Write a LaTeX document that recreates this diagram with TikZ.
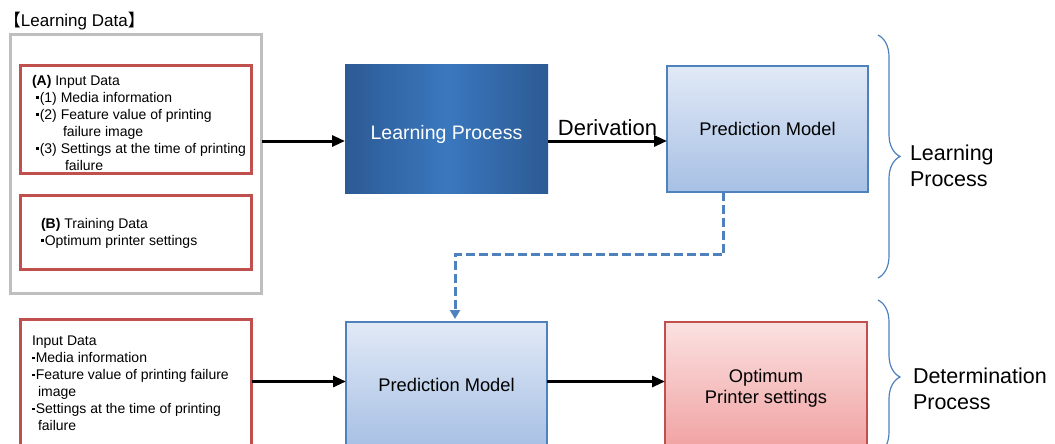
\documentclass[tikz,border=0pt]{standalone}
\usepackage{fontspec}
\setmainfont{Liberation Sans}
\newfontfamily\cjk{Noto Sans CJK JP}
\usepackage{tikz}
\usetikzlibrary{positioning,arrows.meta,decorations.pathreplacing}
\definecolor{boxred}{HTML}{C0504D}
\definecolor{boxblue}{HTML}{4F81BD}
\definecolor{framegray}{HTML}{BFBFBF}
\definecolor{deepblue}{HTML}{2C5A94}
\definecolor{midblue}{HTML}{3A78BE}
\definecolor{paleblue}{HTML}{E1E9F6}
\definecolor{softblue}{HTML}{A7C0E4}
\definecolor{palered}{HTML}{FBE1E1}
\definecolor{softred}{HTML}{F09F9F}
\def\ModelW{201pt}
\def\ModelH{125pt}
\def\dotmark{\raisebox{3.2pt}{\rule{2.6pt}{2.6pt}}\hspace{1.2pt}}

\begin{document}
\begin{tikzpicture}[x=1pt,y=-1pt,
    every node/.style={outer sep=0pt},
    frame/.style={draw=framegray,line width=3pt,minimum width=251pt,minimum height=259pt},
    databox/.style={draw=boxred,line width=3pt,minimum width=231pt},
    listtext/.style={align=left,inner sep=0pt,font=\fontsize{14}{17}\selectfont},
    learnbox/.style={left color=deepblue,right color=deepblue,middle color=midblue,minimum width=203pt,minimum height=128pt},
    modelbox/.style={draw=boxblue,line width=2pt,top color=paleblue,bottom color=softblue,minimum width=\ModelW,minimum height=\ModelH,align=center,font=\fontsize{18.3}{21}\selectfont},
    resultbox/.style={draw=boxred,line width=2pt,top color=palered,bottom color=softred,minimum width=202pt,minimum height=133pt,align=center,font=\fontsize{18.3}{21}\selectfont},
    flow/.style={line width=3pt,-{Triangle[length=13pt,width=11pt]}},
    feed/.style={draw=boxblue,line width=3pt,dash pattern=on 9pt off 4pt,shorten >=3pt,-{Triangle[length=9pt,width=10pt]}},
    phase/.style={draw=boxblue,line width=1.2pt,decorate,decoration={brace,amplitude=22pt}},
    side/.style={align=left,inner sep=0pt,anchor=west,font=\fontsize{21.5}{26}\selectfont}
  ]
  \useasboundingbox (0,0) rectangle (1055,444);
  \clip (0,0) rectangle (1055,444);
  % learning data
  \node[anchor=base west,inner sep=0pt,font=\fontsize{17}{20}\selectfont] (title) at (4,27) {{\cjk 【}Learning Data{\cjk 】}};
  \node[frame,anchor=north west] (frame) at (10.5,34.5) {};
  \node[databox,minimum height=108pt,below right=31pt and 10pt of frame.north west] (boxA) {};
  \node[databox,minimum height=74pt,below=22pt of boxA] (boxB) {};
  \node[listtext,below right=9.5pt and 11.5pt of boxA.north west] (textA) {%
    \textbf{(A)} Input Data\\
    \hspace*{4pt}\dotmark(1) Media information\\
    \hspace*{4pt}\dotmark(2) Feature value of printing\\
    \hspace*{31pt}failure image\\
    \hspace*{4pt}\dotmark(3) Settings at the time of printing\\
    \hspace*{33pt}failure};
  \node[listtext,below right=22.5pt and 20.5pt of boxB.north west] (textB) {%
    \textbf{(B)} Training Data\\
    \dotmark Optimum printer settings};
  % learning process
  \node[learnbox,anchor=north west] (learn) at (345,65) {};
  \node[text=white,inner sep=0pt,font=\fontsize{19.5}{23}\selectfont] (learntext) at ([yshift=-5pt]learn.center) {Learning Process};
  \node[modelbox,right=119pt of learn] (modeltop) {Prediction Model};
  % determination process
  \node[databox,minimum height=140pt,anchor=north west] (inbox) at (20.5,319.5) {};
  \node[listtext,below right=16.5pt and 11.5pt of inbox.north west] (textC) {%
    Input Data\\
    \dotmark Media information\\
    \dotmark Feature value of printing failure\\
    \hspace*{6pt}image\\
    \dotmark Settings at the time of printing\\
    \hspace*{6pt}failure};
  \node[modelbox,below=129pt of learn] (modellow) {Prediction Model};
  \node[resultbox,right=118pt of modellow.north east,anchor=north west] (result) {Optimum\\Printer settings};
  % arrows
  \draw[flow] ([yshift=-12pt]frame.east |- learn.west) -- ([yshift=-12pt]learn.west);
  \draw[flow] ([yshift=-12pt]learn.east) -- ([yshift=-12pt]learn.east -| modeltop.west)
    node[midway,above=5.5pt,inner sep=0pt,font=\fontsize{22}{26}\selectfont] (derive) {Derivation};
  \draw[flow] ([yshift=3pt]inbox.east |- modellow.west) -- ([yshift=3pt]modellow.west);
  \draw[flow] ([yshift=3pt]modellow.east) -- ([yshift=3pt]modellow.east -| result.west);
  \draw[feed] ([xshift=-44pt]modeltop.south) -- ++(0,63) -| ([xshift=8.5pt]modellow.north);
  % braces
  \coordinate (bA) at (878,35);
  \coordinate (bB) at (878,278);
  \coordinate (bC) at (878,300);
  \coordinate (bD) at (878,454);
  \draw[phase] (bA) -- (bB);
  \draw[phase] (bC) -- (bD);
  \node[side] (sideA) at (910,166) {Learning\\Process};
  \node[side] (sideB) at (913,388.5) {Determination\\Process};
\end{tikzpicture}
\end{document}
